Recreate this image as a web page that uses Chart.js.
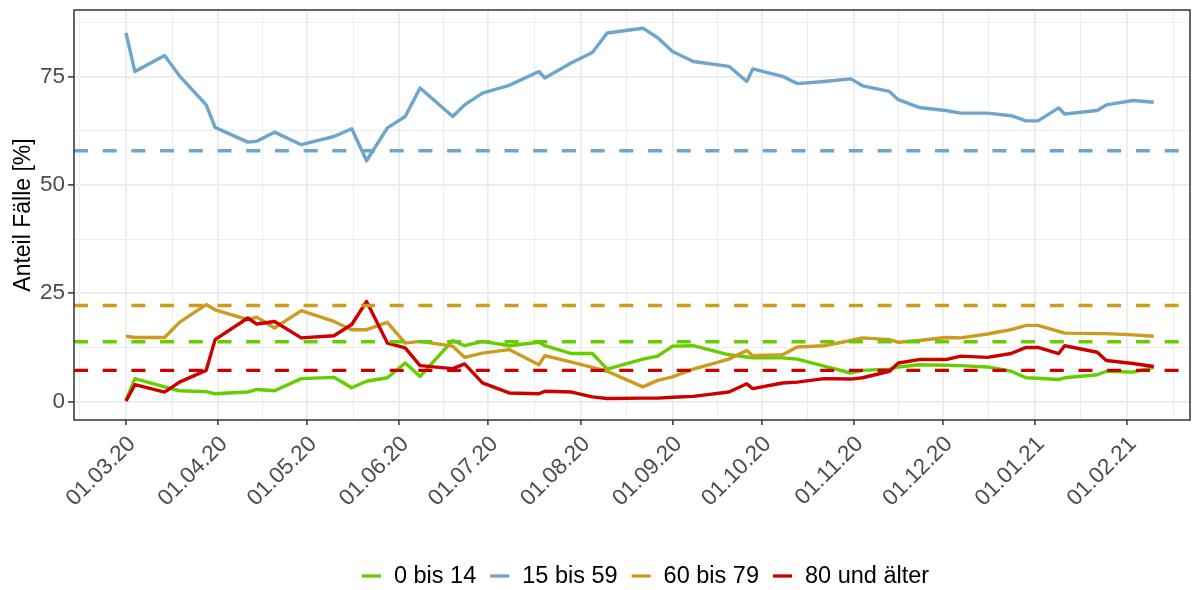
<!DOCTYPE html>
<html lang="de">
<head>
<meta charset="UTF-8">
<title>Anteil Fälle nach Altersgruppe</title>
<script src="https://cdn.jsdelivr.net/npm/chart.js"></script>
<style>
    body { margin: 0; background: #ffffff; }
    #wrap { width: 1203px; height: 590px; }
</style>
</head>
<body>
<div id="wrap"><canvas id="chart" width="1203" height="590"></canvas></div>
<script>
    // Tage seit dem 01.03.2020
    const days = [0, 3, 13, 18, 27, 30, 41, 44, 50, 59, 70, 76, 81, 88, 94, 99, 110, 114, 120, 129,
        139, 141, 150, 157, 162, 174, 179, 184, 191, 203, 209, 211, 221, 226, 235, 244, 248, 257, 260, 267,
        276, 281, 290, 298, 303, 307, 314, 316, 327, 330, 339, 346];

    const groups = ['0 bis 14', '15 bis 59', '60 bis 79', '80 und älter'];
    const colors = ['#66CD00', '#6CA6CD', '#CD9B1D', '#CD0000'];

    const age0to14 = [0.3, 5.3, 3.4, 2.5, 2.3, 1.8, 2.2, 2.8, 2.5, 5.3, 5.6, 3.2, 4.7, 5.5, 8.9, 5.8, 14.1, 12.9, 13.9, 12.9,
        13.7, 12.9, 11.1, 11.1, 7.5, 9.8, 10.5, 12.8, 12.9, 10.8, 10.3, 10.1, 10.1, 9.8, 8.2, 6.6, 7.2, 7.5, 8.0, 8.5,
        8.4, 8.3, 8.0, 7.0, 5.5, 5.4, 5.1, 5.5, 6.2, 7.0, 6.8, 7.9];
    const age15to59 = [85.1, 76.2, 79.9, 75.2, 68.5, 63.3, 59.9, 60.1, 62.2, 59.3, 61.2, 63.0, 55.6, 63.2, 65.8, 72.4, 65.8, 68.5, 71.2, 73.0,
        76.2, 74.7, 78.2, 80.6, 85.1, 86.2, 84.0, 80.8, 78.5, 77.4, 73.9, 76.8, 75.1, 73.4, 73.9, 74.5, 72.9, 71.6, 69.7, 67.9,
        67.2, 66.6, 66.6, 66.0, 64.8, 64.8, 67.8, 66.4, 67.2, 68.5, 69.5, 69.1];
    const age60to79 = [15.1, 14.8, 14.8, 18.3, 22.4, 21.2, 18.9, 19.5, 17.0, 21.0, 18.5, 16.6, 16.6, 18.3, 13.5, 13.9, 12.8, 10.2, 11.2, 12.0,
        8.5, 10.6, 9.1, 7.9, 7.0, 3.4, 4.9, 5.7, 7.5, 9.8, 11.8, 10.6, 10.8, 12.6, 12.9, 14.1, 14.7, 14.3, 13.7, 14.1,
        14.8, 14.7, 15.6, 16.6, 17.6, 17.6, 16.2, 15.8, 15.7, 15.7, 15.4, 15.1];
    const age80plus = [0.1, 3.9, 2.2, 4.5, 7.2, 14.3, 19.3, 17.9, 18.5, 14.7, 15.2, 17.8, 23.1, 13.5, 12.4, 8.3, 7.6, 8.7, 4.3, 2.0,
        1.8, 2.4, 2.2, 1.1, 0.7, 0.8, 0.8, 1.0, 1.2, 2.2, 4.1, 3.0, 4.3, 4.5, 5.3, 5.2, 5.5, 7.0, 8.9, 9.7,
        9.7, 10.5, 10.2, 11.1, 12.5, 12.5, 11.1, 12.9, 11.4, 9.5, 8.8, 8.1];

    // Mittelwerte (gestrichelte Linien)
    const means = [13.8, 57.9, 22.2, 7.2];

    const xTickDays = [0, 31, 61, 92, 122, 153, 184, 214, 245, 275, 306, 337];
    const xTickLabels = ['01.03.20', '01.04.20', '01.05.20', '01.06.20', '01.07.20', '01.08.20',
        '01.09.20', '01.10.20', '01.11.20', '01.12.20', '01.01.21', '01.02.21'];
    const yTicks = [0, 25, 50, 75];

    const xMin = -17.5, xMax = 358.2;
    const yMin = -4.25, yMax = 90.4;

    const series = [age0to14, age15to59, age60to79, age80plus];

    // minor breaks like ggplot: midpoints, plus one outside at each end
    const xMinor = [xTickDays[0] - (xTickDays[1] - xTickDays[0]) / 2];
    for (let i = 0; i < xTickDays.length - 1; i++) xMinor.push((xTickDays[i] + xTickDays[i + 1]) / 2);
    const n = xTickDays.length;
    xMinor.push(xTickDays[n - 1] + (xTickDays[n - 1] - xTickDays[n - 2]) / 2);
    const yMinor = yTicks.map(v => v + 12.5);

    const datasets = [];
    series.forEach((vals, i) => {
        datasets.push({
            label: groups[i],
            data: days.map((d, j) => ({x: d, y: vals[j]})),
            borderColor: colors[i],
            borderWidth: 3.4,
            borderJoinStyle: 'round',
            pointRadius: 0,
            tension: 0,
            order: 8 - i
        });
    });
    means.forEach((m, i) => {
        datasets.push({
            label: groups[i] + ' Mittel',
            data: [{x: xMin, y: m}, {x: xMax, y: m}],
            borderColor: colors[i],
            borderWidth: 3.4,
            borderDash: [14, 14.7],
            pointRadius: 0,
            order: 4 - i
        });
    });

    const GRID = '#EBEBEB';
    const FONT = "'Liberation Sans', Arial, sans-serif";

    const panelBorder = {
        id: 'panelBorder',
        afterDatasetsDraw(chart) {
            const {ctx, chartArea: a} = chart;
            ctx.save();
            ctx.strokeStyle = '#333333';
            ctx.lineWidth = 1.5;
            ctx.strokeRect(a.left, a.top, a.right - a.left, a.bottom - a.top);
            ctx.restore();
        }
    };

    const bottomLegend = {
        id: 'bottomLegend',
        afterDraw(chart) {
            const ctx = chart.ctx;
            ctx.save();
            ctx.font = '23.5px ' + FONT;
            const sw = 19, gapText = 13, gapItem = 14;
            const widths = groups.map(g => ctx.measureText(g).width);
            let total = 0;
            widths.forEach((w, i) => { total += sw + gapText + w + (i < groups.length - 1 ? gapItem : 0); });
            let x = 645.5 - total / 2;
            const y = 576;
            ctx.textBaseline = 'middle';
            groups.forEach((g, i) => {
                ctx.strokeStyle = colors[i];
                ctx.lineWidth = 3.3;
                ctx.beginPath();
                ctx.moveTo(x, y);
                ctx.lineTo(x + sw, y);
                ctx.stroke();
                x += sw + gapText;
                ctx.fillStyle = '#000000';
                ctx.fillText(g, x, y + 1);
                x += widths[i] + gapItem;
            });
            ctx.restore();
        }
    };

    new Chart(document.getElementById('chart'), {
        type: 'line',
        data: {datasets: datasets},
        options: {
            responsive: false,
            animation: false,
            layout: {padding: {top: 10, right: 13, bottom: 0, left: 0}},
            plugins: {legend: {display: false}, tooltip: {enabled: false}},
            scales: {
                x: {
                    type: 'linear',
                    min: xMin,
                    max: xMax,
                    afterBuildTicks: scale => {
                        scale.ticks = xTickDays.concat(xMinor).sort((a, b) => a - b).map(v => ({value: v}));
                    },
                    afterFit: scale => { scale.height = 170; },
                    border: {display: false},
                    grid: {
                        color: GRID,
                        lineWidth: c => xTickDays.includes(c.tick.value) ? 1.8 : 0.9,
                        tickColor: c => xTickDays.includes(c.tick.value) ? '#333333' : 'rgba(0,0,0,0)',
                        tickWidth: 1.5,
                        tickLength: 5
                    },
                    ticks: {
                        autoSkip: false,
                        minRotation: 45,
                        maxRotation: 45,
                        padding: 6,
                        labelOffset: 6,
                        color: '#4D4D4D',
                        font: {family: FONT, size: 22.5},
                        callback: v => {
                            const k = xTickDays.indexOf(v);
                            return k >= 0 ? xTickLabels[k] : '';
                        }
                    }
                },
                y: {
                    min: yMin,
                    max: yMax,
                    afterBuildTicks: scale => {
                        scale.ticks = yTicks.concat(yMinor).sort((a, b) => a - b).map(v => ({value: v}));
                    },
                    afterFit: scale => {
                        scale.width = 74;
                        scale.paddingTop = 0;
                        scale.paddingBottom = 0;
                    },
                    border: {display: false},
                    grid: {
                        color: GRID,
                        lineWidth: c => yTicks.includes(c.tick.value) ? 1.8 : 0.9,
                        tickColor: c => yTicks.includes(c.tick.value) ? '#333333' : 'rgba(0,0,0,0)',
                        tickWidth: 1.5,
                        tickLength: 6
                    },
                    ticks: {
                        padding: 3,
                        color: '#4D4D4D',
                        font: {family: FONT, size: 22.5},
                        callback: v => yTicks.includes(v) ? String(v) : ''
                    },
                    title: {
                        display: true,
                        text: 'Anteil Fälle [%]',
                        color: '#000000',
                        font: {family: FONT, size: 23},
                        padding: {top: 10, bottom: 0}
                    }
                }
            }
        },
        plugins: [panelBorder, bottomLegend]
    });
</script>
</body>
</html>
